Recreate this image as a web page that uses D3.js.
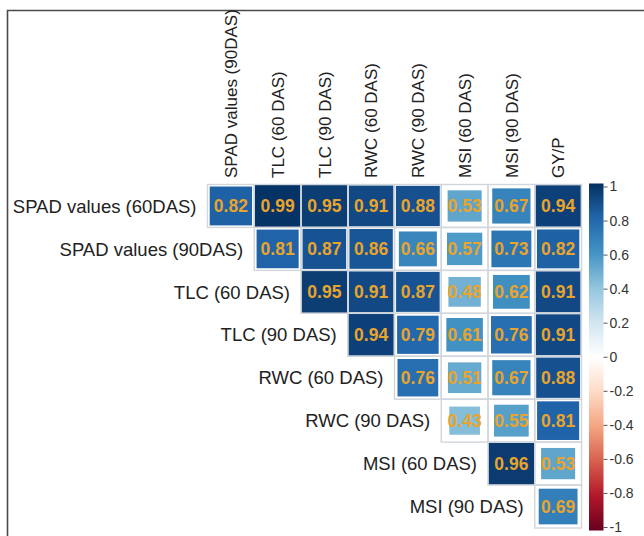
<!DOCTYPE html>
<html>
<head>
<meta charset="utf-8">
<script src="https://cdn.jsdelivr.net/npm/d3@7"></script>
<style>
  body { margin: 0; background: #fff; }
  text { font-family: "Liberation Sans", Arial, sans-serif; }
</style>
</head>
<body>
<div id="chart"></div>
<script>
// row / column variables of the upper triangle (diagonal left out)
var rowNames = ['SPAD values (60DAS)', 'SPAD values (90DAS)', 'TLC (60 DAS)', 'TLC (90 DAS)',
                'RWC (60 DAS)', 'RWC (90 DAS)', 'MSI (60 DAS)', 'MSI (90 DAS)']
var colNames = ['SPAD values (90DAS)', 'TLC (60 DAS)', 'TLC (90 DAS)', 'RWC (60 DAS)',
                'RWC (90 DAS)', 'MSI (60 DAS)', 'MSI (90 DAS)', 'GY/P']

// correlation values, one row per rowNames entry, starting at the matching column
var r1 = [0.82, 0.99, 0.95, 0.91, 0.88, 0.53, 0.67, 0.94]
var r2 = [0.81, 0.87, 0.86, 0.66, 0.57, 0.73, 0.82]
var r3 = [0.95, 0.91, 0.87, 0.48, 0.62, 0.91]
var r4 = [0.94, 0.79, 0.61, 0.76, 0.91]
var r5 = [0.76, 0.51, 0.67, 0.88]
var r6 = [0.43, 0.55, 0.81]
var r7 = [0.96, 0.53]
var r8 = [0.69]
var rows = [r1, r2, r3, r4, r5, r6, r7, r8]

var legendTicks = [-1, -0.8, -0.6, -0.4, -0.2, 0, 0.2, 0.4, 0.6, 0.8, 1]
var paletteCols = ["#67001F", "#B2182B", "#D6604D", "#F4A582", "#FDDBC7", "#FFFFFF",
                   "#D1E5F0", "#92C5DE", "#4393C3", "#2166AC", "#053061"]

var cells = []
rows.forEach(function (vals, i) {
    vals.forEach(function (v, k) {
        cells.push({ row: rowNames[i], col: colNames[i + k], value: v })
    })
})

var W = 644, H = 536

var svg = d3.select("#chart").append("svg")
    .attr("width", W)
    .attr("height", H)

var x = d3.scaleBand().domain(colNames).range([207.5, 581.5])
var y = d3.scaleBand().domain(rowNames).range([184.5, 528])
var color = d3.scaleLinear()
    .domain(d3.range(-1, 1.0001, 0.2))
    .range(paletteCols)

// frame
svg.append("path")
    .attr("d", "M7.5," + H + "V10.5H" + W)
    .attr("fill", "none")
    .attr("stroke", "#4a4a4a")
    .attr("stroke-width", 1.6)

// squares, side ~ sqrt(|r|)
svg.selectAll("rect.sq")
    .data(cells)
    .enter()
    .append("rect")
        .attr("class", "sq")
        .attr("x", d => x(d.col) + x.bandwidth() * (1 - Math.sqrt(Math.abs(d.value))) / 2)
        .attr("y", d => y(d.row) + y.bandwidth() * (1 - Math.sqrt(Math.abs(d.value))) / 2)
        .attr("width", d => x.bandwidth() * Math.sqrt(Math.abs(d.value)))
        .attr("height", d => y.bandwidth() * Math.sqrt(Math.abs(d.value)))
        .attr("fill", d => color(d.value))

// grid around each cell
svg.selectAll("rect.grid")
    .data(cells)
    .enter()
    .append("rect")
        .attr("class", "grid")
        .attr("x", d => x(d.col))
        .attr("y", d => y(d.row))
        .attr("width", x.bandwidth())
        .attr("height", y.bandwidth())
        .attr("fill", "none")
        .attr("stroke", "#d0d6dc")
        .attr("stroke-width", 1.4)

// numbers
svg.selectAll("text.num")
    .data(cells)
    .enter()
    .append("text")
        .attr("class", "num")
        .attr("x", d => x(d.col) + x.bandwidth() / 2)
        .attr("y", d => y(d.row) + y.bandwidth() / 2)
        .attr("dy", "0.36em")
        .attr("text-anchor", "middle")
        .style("font-size", "17.5px")
        .style("font-weight", "bold")
        .attr("fill", "#e8a42c")
        .text(d => d.value.toFixed(2))

// row labels, next to the first cell of each row
svg.selectAll("text.rowlab")
    .data(rowNames)
    .enter()
    .append("text")
        .attr("class", "rowlab")
        .attr("x", (d, i) => x(colNames[i]) - 11)
        .attr("y", d => y(d) + y.bandwidth() / 2)
        .attr("dy", "0.36em")
        .attr("text-anchor", "end")
        .style("font-size", "18.5px")
        .attr("fill", "#222")
        .text(d => d)

// column labels, rotated
svg.selectAll("text.collab")
    .data(colNames)
    .enter()
    .append("text")
        .attr("class", "collab")
        .attr("transform", d => "translate(" + (x(d) + x.bandwidth() / 2) + ",178) rotate(-90)")
        .attr("dy", "0.36em")
        .attr("text-anchor", "start")
        .style("font-size", "17px")
        .attr("fill", "#222")
        .text(d => d)

// colour legend
var ly = d3.scaleLinear().domain([-1, 1]).range([527, 186.5])
var grad = svg.append("defs").append("linearGradient")
    .attr("id", "cbar")
    .attr("x1", 0).attr("y1", 1).attr("x2", 0).attr("y2", 0)
grad.selectAll("stop")
    .data(legendTicks)
    .enter()
    .append("stop")
        .attr("offset", d => (d + 1) / 2)
        .attr("stop-color", d => color(d))

svg.append("rect")
    .attr("x", 589)
    .attr("y", 183.5)
    .attr("width", 14.5)
    .attr("height", 347)
    .attr("fill", "url(#cbar)")

var legendAxis = d3.axisRight(ly)
    .tickValues(legendTicks)
    .tickSize(4)
    .tickPadding(2)
    .tickFormat(d => Math.abs(d) < 1e-9 ? "0" : String(+d.toFixed(1)))

var ag = svg.append("g")
    .attr("transform", "translate(603.5,0)")
    .call(legendAxis)
ag.select(".domain").remove()
ag.selectAll(".tick line").attr("stroke", "#555")
ag.selectAll(".tick text")
    .style("font-size", "14px")
    .style("font-family", "'Liberation Sans', Arial, sans-serif")
    .attr("fill", "#333")
</script>
</body>
</html>
